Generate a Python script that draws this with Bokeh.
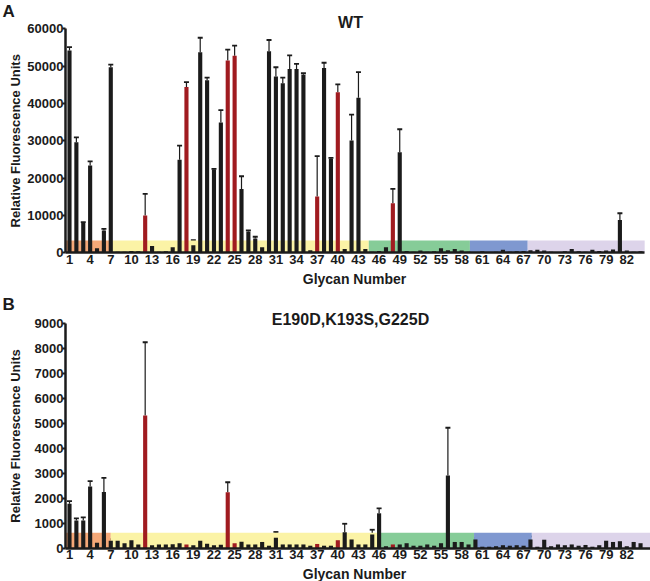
from bokeh.plotting import figure
from bokeh.models import Range1d, FixedTicker, ColumnDataSource, Whisker, TeeHead, Label, PrintfTickFormatter
from bokeh.layouts import column
from bokeh.embed import file_html
from bokeh.resources import INLINE

# ---------------- data ----------------
glycans = list(range(1, 85))
x_tick_values = list(range(1, 83, 3))
red_glycans = [12, 18, 24, 25, 37, 40, 48]

wt_rfu = [54200, 29600, 8000, 23400, 1200, 6000, 49700, 300, 300, 500,
          400, 10000, 1800, 300, 400, 1500, 24900, 44400, 2000, 53700,
          46200, 22300, 34900, 51500, 52800, 17100, 5700, 3800, 1500, 54000,
          47200, 45400, 49200, 49200, 47700, 700, 15100, 49500, 25200, 43000,
          1000, 30100, 41500, 1000, 300, 500, 1500, 13300, 26900, 500,
          300, 600, 300, 400, 1200, 700, 1000, 600, 300, 200,
          400, 200, 300, 800, 300, 400, 500, 700, 800, 600,
          300, 200, 400, 1000, 400, 300, 800, 500, 600, 900,
          8800, 600, 300, 400]
wt_sd = [900, 1300, 200, 1100, 400, 400, 700, 100, 100, 400,
         100, 5800, 1100, 100, 300, 400, 3800, 1300, 1400, 3900,
         700, 200, 3300, 2900, 2700, 3400, 300, 500, 300, 3000,
         2500, 1500, 3700, 1400, 400, 200, 10800, 1400, 200, 2100,
         300, 6900, 6900, 500, 100, 400, 1300, 3800, 6200, 400,
         100, 400, 200, 200, 1000, 500, 500, 400, 100, 100,
         600, 100, 200, 1200, 100, 300, 500, 500, 400, 400,
         100, 100, 300, 1000, 200, 100, 700, 500, 400, 600,
         1800, 600, 300, 300]

mut_rfu = [1780, 1110, 1110, 2470, 220, 2250, 300, 300, 200, 320,
           150, 5320, 120, 150, 150, 160, 200, 150, 120, 300,
           180, 120, 140, 2245, 200, 260, 150, 150, 250, 100,
           420, 150, 150, 150, 150, 100, 170, 100, 100, 320,
           640, 350, 150, 150, 550, 1400, 80, 150, 150, 200,
           100, 100, 150, 100, 200, 2915, 250, 250, 150, 350,
           60, 60, 80, 120, 100, 120, 100, 350, 60, 340,
           80, 150, 120, 150, 100, 130, 60, 120, 300, 250,
           280, 80, 250, 200]
mut_sd = [110, 90, 130, 220, 40, 570, 60, 80, 120, 140,
          90, 2940, 80, 60, 80, 90, 90, 60, 80, 160,
          70, 80, 70, 400, 100, 180, 100, 90, 150, 80,
          230, 60, 70, 60, 60, 60, 90, 80, 50, 40,
          340, 160, 90, 60, 190, 200, 60, 100, 60, 170,
          90, 80, 90, 80, 100, 1915, 80, 70, 100, 60,
          40, 30, 50, 40, 40, 40, 50, 120, 30, 150,
          40, 60, 60, 50, 40, 40, 40, 60, 60, 60,
          70, 40, 50, 60]

class_colors = ["#f5a878", "#fbf3a6", "#86cc98", "#7f98d0", "#ddd4ea"]
wt_class_edges = [0.42, 7.0, 44.5, 59.2, 67.6, 84.6]
mut_class_edges = [0.42, 7.0, 46.0, 59.8, 68.2, 85.4]
wt_band_height = 3300
mut_band_height = 620
wt_y_ticks = list(range(0, 60001, 10000))
mut_y_ticks = list(range(0, 9001, 1000))

FONT = "Liberation Sans"
BLACK = "#1b1b1b"
RED = "#a01b20"

W = 650
PX_PER_GLYCAN = 6.88
X_START = 1 - 69 / PX_PER_GLYCAN
X_END = X_START + W / PX_PER_GLYCAN
AXIS_X = 0.42


def x_at(px):
    return X_START + px / PX_PER_GLYCAN


def panel(rfu, sd, edges, band_h, yticks, title, letter, height,
          base_px, axis_top_px, title_px, letter_px, xlabel_px):
    ymax = yticks[-1]
    per_px = ymax / (base_px - axis_top_px)
    y_top = base_px * per_px
    y_bot = -(height - base_px) * per_px

    def y_at(px):
        return y_top - px * per_px

    p = figure(width=W, height=height, output_backend="svg", toolbar_location=None,
               x_range=Range1d(X_START, X_END), y_range=Range1d(y_bot, y_top),
               min_border_left=0, min_border_right=0,
               min_border_top=0, min_border_bottom=0)
    p.outline_line_color = None
    p.grid.visible = False

    p.quad(left=edges[:-1], right=edges[1:], bottom=0, top=band_h,
           fill_color=class_colors, line_color=None)

    colors = [RED if g in red_glycans else BLACK for g in glycans]
    src = ColumnDataSource(dict(x=glycans, v=rfu,
                                up=[a + b for a, b in zip(rfu, sd)], c=colors))
    p.vbar(x="x", top="v", bottom=0, width=0.6, source=src,
           fill_color="c", line_color=None)
    w = Whisker(source=src, base="x", lower="v", upper="up",
                line_color=BLACK, line_width=1.2,
                upper_head=TeeHead(size=5, line_color=BLACK, line_width=1.8),
                lower_head=None)
    p.add_layout(w)

    xa = p.xaxis[0]
    xa.fixed_location = 0
    xa.bounds = (AXIS_X, edges[-1])
    xa.ticker = FixedTicker(ticks=x_tick_values)
    xa.major_tick_out = 0
    xa.major_tick_in = 0
    xa.minor_tick_out = 0
    xa.axis_line_width = 2.5
    xa.axis_line_color = BLACK
    xa.major_label_text_font = FONT
    xa.major_label_text_font_style = "bold"
    xa.major_label_text_font_size = "13px"
    xa.major_label_text_color = BLACK
    xa.major_label_standoff = 2

    ya = p.yaxis[0]
    ya.fixed_location = AXIS_X
    ya.bounds = (0, ymax)
    ya.ticker = FixedTicker(ticks=yticks)
    ya.formatter = PrintfTickFormatter(format="%d")
    ya.major_tick_out = 3
    ya.major_tick_in = 0
    ya.minor_tick_out = 0
    ya.major_tick_line_width = 2
    ya.major_tick_line_color = BLACK
    ya.axis_line_width = 2.5
    ya.axis_line_color = BLACK
    ya.major_label_text_font = FONT
    ya.major_label_text_font_style = "bold"
    ya.major_label_text_font_size = "13px"
    ya.major_label_text_color = BLACK
    ya.major_label_standoff = -1

    def txt(x, y, text, size, align="center", angle=0):
        p.add_layout(Label(x=x, y=y, text=text, text_align=align,
                           text_baseline="alphabetic", text_font=FONT,
                           text_font_style="bold", text_font_size=size,
                           text_color=BLACK, angle=angle, angle_units="deg"))

    txt(x_at(350), y_at(title_px), title, "16px")
    txt(x_at(2), y_at(letter_px), letter, "17px", align="left")
    txt(x_at(15), y_at((base_px + axis_top_px) / 2), "Relative Fluorescence Units",
        "13px", angle=90)
    txt(x_at(354), y_at(xlabel_px), "Glycan Number", "14px")
    return p


pa = panel(wt_rfu, wt_sd, wt_class_edges, wt_band_height, wt_y_ticks, "WT", "A",
           height=288, base_px=252.3, axis_top_px=28.3,
           title_px=22, letter_px=11, xlabel_px=278)
pb = panel(mut_rfu, mut_sd, mut_class_edges, mut_band_height, mut_y_ticks,
           "E190D,K193S,G225D", "B",
           height=293, base_px=259.7, axis_top_px=35.3,
           title_px=31, letter_px=16, xlabel_px=285.5)

layout = column(pa, pb, spacing=0)
open("out.html", "w").write(file_html(layout, INLINE))
